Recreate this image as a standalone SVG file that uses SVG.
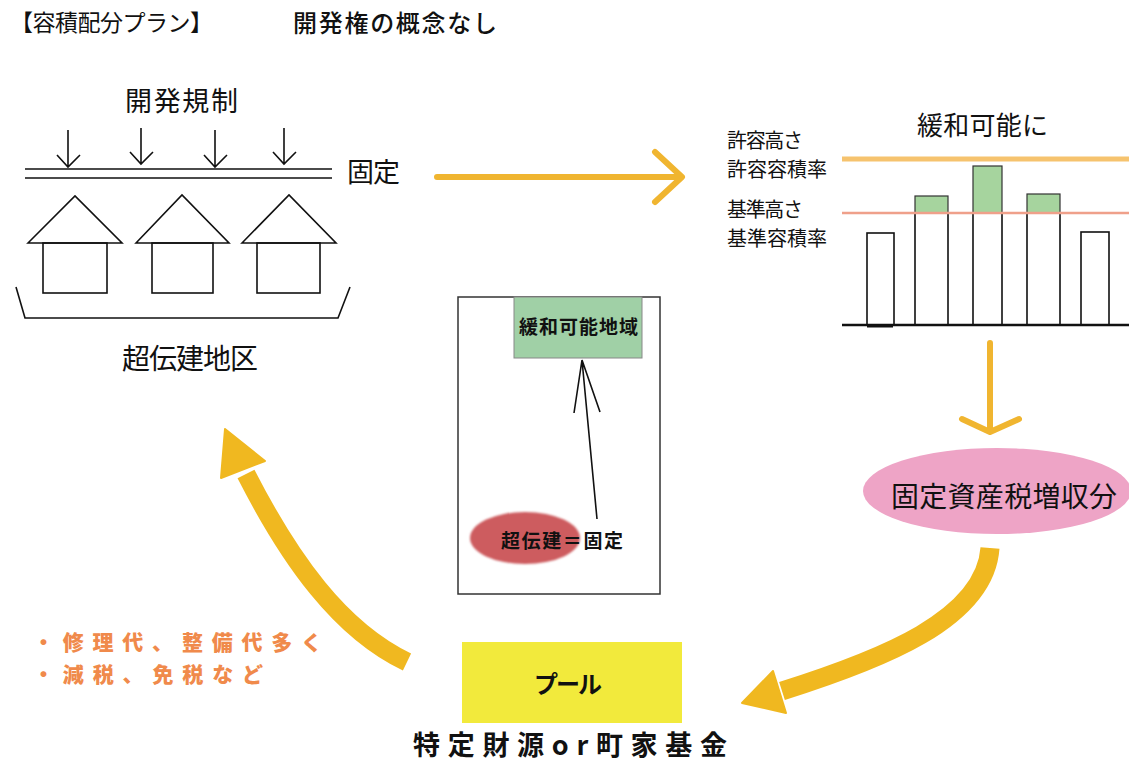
<svg xmlns="http://www.w3.org/2000/svg" width="1129" height="762" viewBox="0 0 1129 762">
  <style>
    .t { font-family: "Noto Sans CJK JP", "Noto Sans", sans-serif; fill: #111; }
    .b { font-weight: 700; }
    .ln { stroke: #111; stroke-width: 1.6; fill: none; }
    .gold { stroke: #F0B530; fill: none; stroke-linecap: round; stroke-linejoin: round; }
    .bar { fill: #fff; stroke: #111; stroke-width: 1.6; }
    .grn { fill: #A6D49E; stroke: #333; stroke-width: 1.2; }
  </style>
  <defs>
    <filter id="soft" x="-10%" y="-10%" width="120%" height="120%">
      <feGaussianBlur stdDeviation="0.8"/>
    </filter>
  </defs>

  <rect width="1129" height="762" fill="#fff"/>

  <!-- heading -->
  <g id="title">
    <text class="t" x="10" y="31" font-size="23" textLength="203" lengthAdjust="spacing">【容積配分プラン】</text>
    <text class="t" x="293" y="32" font-size="24" font-weight="500" textLength="204" lengthAdjust="spacing">開発権の概念なし</text>
  </g>

  <!-- fixed district: regulation pressing down on houses -->
  <g id="district">
    <text class="t" x="125" y="111" font-size="27" textLength="113" lengthAdjust="spacing">開発規制</text>
    <g class="ln">
      <path d="M68 130 V167 M57 155 L68 167 L80 155"/>
      <path d="M141 128 V164 M130 152 L141 164 L153 152"/>
      <path d="M215 130 V167 M204 155 L215 167 L227 155"/>
      <path d="M284 128 V164 M273 152 L284 164 L296 152"/>
      <path d="M25 169 H332 M25 178 H332"/>
      <!-- houses -->
      <path d="M28 243 L75 196 L122 243 Z"/>
      <rect x="43" y="243" width="64" height="50"/>
      <path d="M136 243 L182 195 L229 243 Z"/>
      <rect x="152" y="243" width="61" height="50"/>
      <path d="M242 243 L289 195 L336 243 Z"/>
      <rect x="257" y="243" width="63" height="50"/>
      <!-- bracket -->
      <path d="M16 287 L25 318 H338 L350 287"/>
    </g>
    <text class="t" x="347" y="182" font-size="27" textLength="53" lengthAdjust="spacing">固定</text>
    <text class="t" x="122" y="369" font-size="28" textLength="136" lengthAdjust="spacing">超伝建地区</text>
  </g>

  <!-- relaxed heights chart -->
  <g id="relaxed">
    <text class="t" x="917" y="135" font-size="26" textLength="131" lengthAdjust="spacing">緩和可能に</text>
    <text class="t" x="727" y="148" font-size="20" textLength="76" lengthAdjust="spacing">許容高さ</text>
    <text class="t" x="727" y="177" font-size="20" textLength="100" lengthAdjust="spacing">許容容積率</text>
    <text class="t" x="727" y="217" font-size="20" textLength="76" lengthAdjust="spacing">基準高さ</text>
    <text class="t" x="727" y="246" font-size="20" textLength="100" lengthAdjust="spacing">基準容積率</text>
    <line x1="842" y1="159" x2="1129" y2="159" stroke="#F6C36E" stroke-width="5"/>
    <rect class="bar" x="867" y="233" width="27" height="92"/>
    <rect class="bar" x="915" y="213" width="33" height="112"/>
    <rect class="grn" x="915" y="196" width="33" height="17"/>
    <rect class="bar" x="973" y="213" width="29" height="112"/>
    <rect class="grn" x="973" y="166" width="29" height="47"/>
    <rect class="bar" x="1027" y="213" width="33" height="112"/>
    <rect class="grn" x="1027" y="194" width="33" height="19"/>
    <rect class="bar" x="1081" y="232" width="28" height="93"/>
    <line x1="842" y1="213" x2="1129" y2="213" stroke="#EFA08A" stroke-width="2.5"/>
    <line x1="842" y1="325" x2="1129" y2="325" stroke="#111" stroke-width="2.5"/>
    <line x1="867" y1="326" x2="893" y2="326" stroke="#111" stroke-width="3"/>
  </g>

  <!-- map inset -->
  <g id="inset">
    <rect x="458" y="297" width="202" height="297" fill="#fff" stroke="#333" stroke-width="1.5"/>
    <rect x="514" y="297" width="128" height="61" fill="#A0D0A6" stroke="#888" stroke-width="1"/>
    <text class="t b" x="519" y="334" font-size="19" textLength="119" lengthAdjust="spacing">緩和可能地域</text>
    <ellipse cx="525" cy="538" rx="55" ry="26" fill="#CD5C5E" filter="url(#soft)"/>
    <text class="t b" x="501" y="548" font-size="19" textLength="122" lengthAdjust="spacing">超伝建＝固定</text>
    <path class="ln" d="M597 519 L582 360 M574 413 L582 360 L600 412" stroke-width="1.4"/>
  </g>

  <!-- tax revenue -->
  <g id="tax">
    <ellipse cx="997" cy="491" rx="134" ry="43" fill="#EEA4C6"/>
    <text class="t" x="891" y="507" font-size="28" textLength="226" lengthAdjust="spacing">固定資産税増収分</text>
  </g>

  <!-- pool / fund -->
  <g id="pool">
    <rect x="462" y="642" width="220" height="81" fill="#F2EA3C"/>
    <text class="t b" x="534" y="693" font-size="24" textLength="68" lengthAdjust="spacing">プール</text>
    <text class="t b" x="413" y="755" font-size="27" textLength="314" lengthAdjust="spacing">特定財源or町家基金</text>
  </g>

  <!-- spending notes -->
  <g id="notes" fill="#F08A4B" font-family="'Noto Sans CJK JP', sans-serif" font-weight="900" font-size="21">
    <text x="33" y="650" textLength="289" lengthAdjust="spacing">・修理代、整備代多く</text>
    <text x="33" y="682" textLength="230" lengthAdjust="spacing">・減税、免税など</text>
  </g>

  <!-- flow arrows -->
  <g id="connectors">
    <g class="gold" stroke-width="6">
      <path d="M437 177 H681 M655 152 L682 177 L655 202"/>
      <path d="M990 343 V431 M962 419 L990 432 L1019 419"/>
    </g>
    <!-- pool back to district -->
    <path d="M407 662 C340 630 290 560 246 474" stroke="#F0B820" stroke-width="19" fill="none"/>
    <path d="M225 429 L265 461 L221 478 Z" fill="#F0B820" stroke="#F0B820" stroke-width="2" stroke-linejoin="round"/>
    <!-- tax revenue into pool -->
    <path d="M990 548 C985 620 880 660 782 691" stroke="#F0B820" stroke-width="19" fill="none"/>
    <path d="M742 703 L773 671 L786 713 Z" fill="#F0B820" stroke="#F0B820" stroke-width="2" stroke-linejoin="round"/>
  </g>
</svg>
